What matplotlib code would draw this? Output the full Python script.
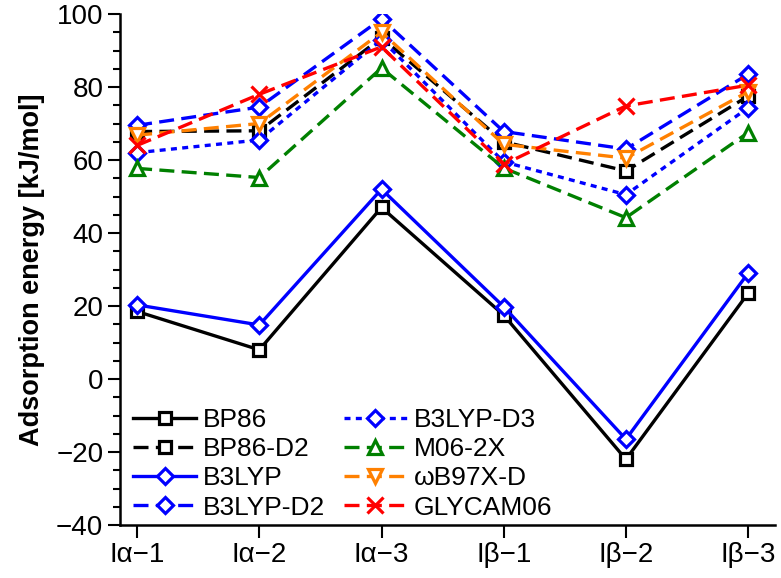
import matplotlib
matplotlib.use("Agg")
import matplotlib.pyplot as plt
from matplotlib.ticker import MultipleLocator

plt.rcParams['font.family'] = ['Liberation Sans', 'DejaVu Sans']

categories = ["I\u03b1\u22121", "I\u03b1\u22122", "I\u03b1\u22123", "I\u03b2\u22121", "I\u03b2\u22122", "I\u03b2\u22123"]

bp86 = [18.5, 8.0, 47.0, 17.5, -22.0, 23.5]
bp86_d2 = [67.8, 68.0, 93.5, 65.0, 57.0, 77.5]
b3lyp = [20.3, 14.8, 52.0, 19.8, -16.5, 29.0]
b3lyp_d2 = [69.5, 74.5, 98.7, 67.8, 63.0, 83.5]
b3lyp_d3 = [62.0, 65.5, 93.0, 59.5, 50.5, 74.3]
m06_2x = [57.7, 55.2, 85.2, 57.8, 44.2, 67.5]
wb97xd = [66.8, 70.0, 95.0, 64.3, 60.5, 78.7]
glycam06 = [64.0, 78.0, 91.0, 58.8, 74.8, 80.5]

series = [
    ("BP86", bp86, "black", "-", "s"),
    ("BP86-D2", bp86_d2, "black", "--", "s"),
    ("B3LYP", b3lyp, "#0000ff", "-", "D"),
    ("B3LYP-D2", b3lyp_d2, "#0000ff", "--", "D"),
    ("B3LYP-D3", b3lyp_d3, "#0000ff", ":", "D"),
    ("M06-2X", m06_2x, "#008000", "--", "^"),
    ("\u03c9B97X-D", wb97xd, "#ff8000", "--", "v"),
    ("GLYCAM06", glycam06, "#ff0000", "--", "x"),
]

fig = plt.figure(figsize=(7.81, 5.78), dpi=100)
ax = fig.add_axes([120/781, 53/578, 655/781, 511/578])

x = list(range(len(categories)))
for label, vals, color, ls, mk in series:
    if ls == "--":
        dashes = (4.5, 2.2)
    elif ls == ":":
        dashes = (1.8, 1.6)
    else:
        dashes = None
    ms = {"s": 8.5, "D": 8, "^": 10, "v": 10, "x": 11}[mk]
    kw = dict(color=color, lw=2.4, marker=mk, markersize=ms, markeredgewidth=2.3,
              markerfacecolor='white' if mk != 'x' else color, markeredgecolor=color, label=label)
    if dashes is not None:
        ax.plot(x, vals, linestyle='--', dashes=dashes, **kw)
    else:
        ax.plot(x, vals, linestyle='-', **kw)

ax.set_xlim(-0.14, 5.22)
ax.set_ylim(-40, 100)
ax.set_xticks(x)
ax.set_xticklabels(categories)
ax.yaxis.set_minor_locator(MultipleLocator(5))
yt = list(range(-40, 101, 20))
ax.set_yticks(yt)
ax.set_yticklabels([("\u2212%d" % -v) if v < 0 else "%d" % v for v in yt])

for s in ("top", "right"):
    ax.spines[s].set_visible(False)
for s in ("left", "bottom"):
    ax.spines[s].set_linewidth(1.8)

ax.tick_params(axis='both', which='major', labelsize=20, width=1.5, length=9, direction='out', pad=3)
ax.tick_params(axis='y', which='minor', width=1.5, length=5, direction='out')
ax.set_ylabel("Adsorption energy [kJ/mol]", fontsize=19.5, fontweight='bold', labelpad=8)

leg = ax.legend(ncol=2, loc='lower left', bbox_to_anchor=(0.012, 0.0), frameon=False,
                fontsize=19, handlelength=2.4, columnspacing=0.7, labelspacing=0.2,
                handletextpad=0.25, borderaxespad=0.0, borderpad=0.2)

fig.savefig("out.png", dpi=100)
